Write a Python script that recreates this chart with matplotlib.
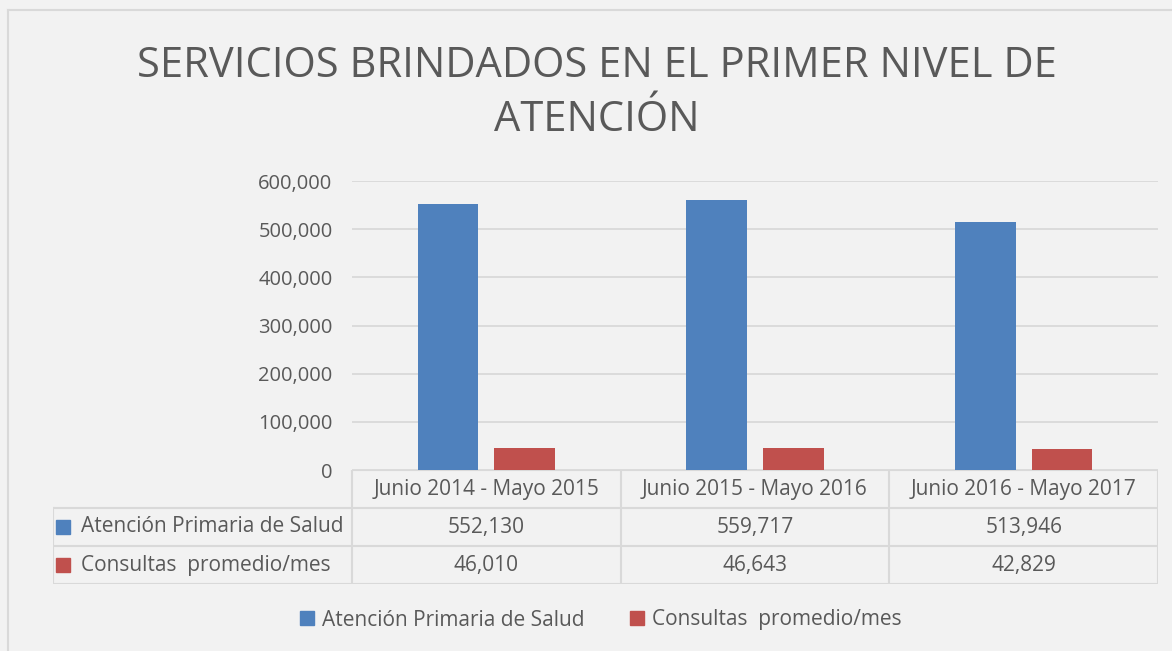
#! /usr/bin/env python3
"""Servicios brindados en el primer nivel de atencion - bar chart with data table"""

import numpy as np
from matplotlib import pyplot as plt
from matplotlib.lines import Line2D
from matplotlib.patches import Patch

periods = ['Junio 2014 - Mayo 2015', 'Junio 2015 - Mayo 2016',
           'Junio 2016 - Mayo 2017']
series_names = ['Atención Primaria de Salud', 'Consultas  promedio/mes']
atencion = [552130, 559717, 513946]
consultas = [46010, 46643, 42829]
yticks = [0, 100000, 200000, 300000, 400000, 500000, 600000]

BLUE = '#4f81bd'
RED = '#c0504d'
TXT = '#595959'
GRID = '#d9d9d9'
BG = '#f2f2f2'

W, H = 1172, 651
plt.rcParams['font.family'] = ['Open Sans', 'DejaVu Sans']

fig = plt.figure(figsize=(W / 100, H / 100), dpi=100, facecolor=BG)


def fx(px):
    return px / W


def fy(py):
    return 1 - py / H


# outer chart border (cropped at right/bottom)
fig.add_artist(Line2D([fx(8), fx(8)], [fy(10), 0], color=GRID, lw=1.5))
fig.add_artist(Line2D([fx(8), 1], [fy(10), fy(10)], color=GRID, lw=1.5))

fig.text(fx(597), fy(93), 'SERVICIOS BRINDADOS EN EL PRIMER NIVEL DE\nATENCIÓN',
         ha='center', va='center', fontsize=30, color=TXT, linespacing=1.38)

# bar area
x_left, x_right = 352, 1158
ax = fig.add_axes([fx(x_left), fy(470), fx(x_right - x_left), (470 - 181) / H])
ax.set_facecolor(BG)
x = np.arange(len(periods))
bw = 0.225
gap = 0.06
ax.bar(x - (bw + gap) / 2, atencion, bw, color=BLUE, zorder=3)
ax.bar(x + (bw + gap) / 2, consultas, bw, color=RED, zorder=3)
ax.set_xlim(-0.5, len(periods) - 0.5)
ax.set_ylim(0, 600000)
ax.set_yticks(yticks)
ax.set_yticklabels([f'{v:,}' for v in yticks])
ax.set_xticks([])
ax.tick_params(axis='y', length=0, pad=14, labelsize=14.5, labelcolor=TXT)
ax.grid(axis='y', color=GRID, lw=1.3, zorder=0)
for s in ax.spines.values():
    s.set_visible(False)

# data table under the bars
col_px = (x_right - x_left) / len(periods)
label_w = (x_left - 53) / col_px
tab = fig.add_axes([fx(53), fy(584), fx(x_right - 53), (584 - 470) / H])
tab.set_xlim(-0.5 - label_w, len(periods) - 0.5)
tab.set_ylim(0, 3)
tab.axis('off')
lkw = dict(color=GRID, lw=1.5, solid_capstyle='projecting')
tab.plot([-0.5, len(periods) - 0.5], [3, 3], **lkw)
for yy in [0, 1, 2]:
    tab.plot([-0.5 - label_w, len(periods) - 0.5], [yy, yy], **lkw)
tab.plot([-0.5 - label_w] * 2, [0, 2], **lkw)
for i in range(len(periods) + 1):
    tab.plot([i - 0.5] * 2, [0, 3], **lkw)

tfs = 15
for i, p in enumerate(periods):
    tab.text(i, 2.5, p, ha='center', va='center', fontsize=tfs, color=TXT)
rows = [(series_names[0], atencion, BLUE), (series_names[1], consultas, RED)]
for r, (name, vals, col) in enumerate(rows):
    yy = 1.5 - r
    tab.plot(-0.5 - label_w + 9.5 / col_px, yy, marker='s', ms=10,
             color=col, clip_on=False)
    tab.text(-0.5 - label_w + 28 / col_px, yy, name, ha='left', va='center',
             fontsize=tfs, color=TXT)
    for i, v in enumerate(vals):
        tab.text(i, yy, f'{v:,}', ha='center', va='center', fontsize=tfs,
                 color=TXT)

handles = [Patch(color=BLUE), Patch(color=RED)]
fig.legend(handles, series_names, loc='center', ncol=2,
           bbox_to_anchor=(fx(601), fy(620)), frameon=False, fontsize=tfs,
           labelcolor=TXT, handlelength=0.65, handleheight=0.65,
           handletextpad=0.4, columnspacing=2.2)

fig.savefig('out.png', dpi=100, facecolor=BG)
